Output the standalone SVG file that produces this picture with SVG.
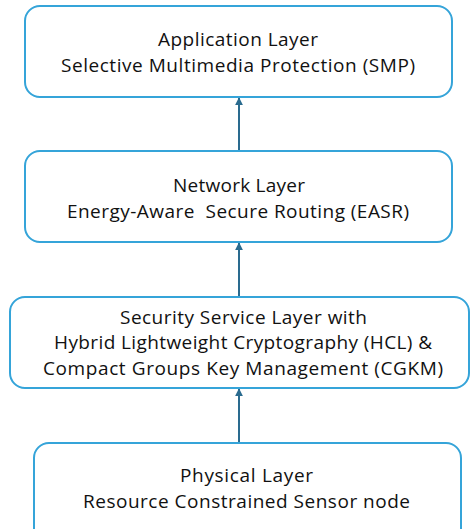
<svg xmlns="http://www.w3.org/2000/svg" width="470" height="529" viewBox="0 0 470 529">
  <defs>
    <style>
      .layer { fill: #ffffff; stroke: #35a4d9; stroke-width: 2; }
      .label { font-family: "Open Sans", "Noto Sans", sans-serif; font-size: 19px; fill: #111111; text-anchor: middle; }
      .link { stroke: #2a6b8f; stroke-width: 2; fill: none; marker-end: url(#head); }
    </style>
    <marker id="head" viewBox="0 0 10 10" refX="9" refY="5" markerWidth="4" markerHeight="4" orient="auto">
      <path d="M0,0 L10,5 L0,10 Z" fill="#2a6b8f"/>
    </marker>
  </defs>
  <rect width="470" height="529" fill="#ffffff"/>

  <g id="connectors">
    <line class="link" x1="239" y1="151" x2="239" y2="98"/>
    <line class="link" x1="239" y1="297" x2="239" y2="243"/>
    <line class="link" x1="239" y1="443" x2="239" y2="389"/>
  </g>

  <g id="application-layer">
    <rect class="layer" x="25" y="6" width="427" height="91" rx="15"/>
    <text class="label" x="238" y="46" textLength="160" lengthAdjust="spacing">Application Layer</text>
    <text class="label" x="238" y="72" textLength="354" lengthAdjust="spacing">Selective Multimedia Protection (SMP)</text>
  </g>

  <g id="network-layer">
    <rect class="layer" x="25" y="151" width="427" height="91" rx="15"/>
    <text class="label" x="239" y="192" textLength="132" lengthAdjust="spacing">Network Layer</text>
    <text class="label" x="238" y="218" textLength="342" lengthAdjust="spacing" xml:space="preserve">Energy-Aware  Secure Routing (EASR)</text>
  </g>

  <g id="security-service-layer">
    <rect class="layer" x="10" y="297" width="459" height="91" rx="15"/>
    <text class="label" x="243.5" y="324" textLength="247" lengthAdjust="spacing">Security Service Layer with</text>
    <text class="label" x="243" y="349" textLength="378" lengthAdjust="spacing">Hybrid Lightweight Cryptography (HCL) &amp;</text>
    <text class="label" x="243" y="375" textLength="400" lengthAdjust="spacing">Compact Groups Key Management (CGKM)</text>
  </g>

  <g id="physical-layer">
    <rect class="layer" x="34" y="443" width="427" height="100" rx="15"/>
    <text class="label" x="246.5" y="482" textLength="133" lengthAdjust="spacing">Physical Layer</text>
    <text class="label" x="246.5" y="508" textLength="327" lengthAdjust="spacing">Resource Constrained Sensor node</text>
  </g>
</svg>
